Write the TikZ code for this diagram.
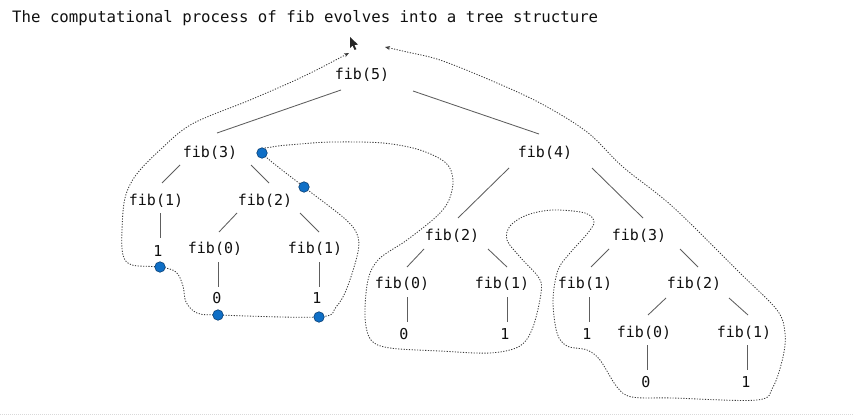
\documentclass[tikz,border=0pt]{standalone}
\usepackage{fontspec}
\setmonofont{DejaVu Sans Mono}
\usetikzlibrary{calc,arrows.meta}
\definecolor{txt}{HTML}{101010}
\definecolor{edgegray}{HTML}{5E5E5E}
\definecolor{trace}{HTML}{3A3A3A}
\definecolor{dotblue}{HTML}{0F6FC6}
\definecolor{dotline}{HTML}{0A3F73}
\newcommand\fibedge[6]{\draw[treeedge] ($(#1)+(#2,#3)$) -- ($(#4)+(#5,#6)$);}
\tikzset{
  fibnode/.style={inner sep=0pt,text=txt,font=\ttfamily\fontsize{15}{18}\selectfont,text height=11pt,text depth=3pt},
  treeedge/.style={draw=edgegray,line width=0.85pt},
  tracepath/.style={draw=trace,line width=0.85pt,dash pattern=on 1.2pt off 1.5pt},
  calldot/.style={circle,inner sep=0pt,minimum size=10.5pt,fill=dotblue,draw=dotline,line width=0.6pt},
}
\begin{document}
\begin{tikzpicture}[x=1pt,y=-1pt]
\useasboundingbox (0,0) rectangle (853,417);
% title
\node[anchor=base west,inner sep=0pt,text=txt,font=\ttfamily\fontsize{15.7}{19}\selectfont] (title) at (12,23) {The computational process of fib evolves into a tree structure};
% nodes
\node[fibnode] (a) at (362,76) {fib(5)};
\node[fibnode] (b) at (210,153) {fib(3)};
\node[fibnode] (c) at (545,153) {fib(4)};
\node[fibnode] (d) at (156,201) {fib(1)};
\node[fibnode] (e) at (265,201) {fib(2)};
\node[fibnode] (f) at (158,252) {1};
\node[fibnode] (g) at (215,249) {fib(0)};
\node[fibnode] (h) at (315,249) {fib(1)};
\node[fibnode] (i) at (217,299) {0};
\node[fibnode] (j) at (317,299) {1};
\node[fibnode] (k) at (452,236) {fib(2)};
\node[fibnode] (l) at (402,284) {fib(0)};
\node[fibnode] (m) at (502,284) {fib(1)};
\node[fibnode] (n) at (404,335) {0};
\node[fibnode] (o) at (505,335) {1};
\node[fibnode] (p) at (639,236) {fib(3)};
\node[fibnode] (q) at (585,284) {fib(1)};
\node[fibnode] (r) at (694,284) {fib(2)};
\node[fibnode] (s) at (587,335) {1};
\node[fibnode] (t) at (644,333) {fib(0)};
\node[fibnode] (u) at (744,333) {fib(1)};
\node[fibnode] (v) at (646,383) {0};
\node[fibnode] (w) at (746,383) {1};
% tree edges
\fibedge{a}{-21}{14}{b}{7}{-20}
\fibedge{a}{51}{15}{c}{-6}{-19}
\fibedge{b}{-30}{12}{d}{6}{-18}
\fibedge{b}{41}{12}{e}{4}{-18}
\fibedge{d}{4}{12}{f}{2}{-14}
\fibedge{e}{-28}{12}{g}{4}{-17}
\fibedge{e}{35}{12}{h}{4}{-17}
\fibedge{g}{3}{13}{i}{1}{-12}
\fibedge{h}{4}{13}{j}{2}{-12}
\fibedge{c}{-36}{15}{k}{6}{-18}
\fibedge{c}{47}{15}{p}{4}{-18}
\fibedge{k}{-28}{13}{l}{5}{-17}
\fibedge{k}{36}{13}{m}{5}{-17}
\fibedge{l}{5}{13}{n}{3}{-13}
\fibedge{m}{5}{13}{o}{2}{-13}
\fibedge{p}{-30}{13}{q}{6}{-17}
\fibedge{p}{41}{13}{r}{4}{-17}
\fibedge{q}{4}{13}{s}{2}{-13}
\fibedge{r}{-28}{14}{t}{4}{-18}
\fibedge{r}{35}{14}{u}{4}{-18}
\fibedge{t}{3}{12}{v}{1}{-13}
\fibedge{u}{3}{12}{w}{1}{-13}
% trace of the process
\draw[tracepath,{Stealth[length=5pt,width=4pt]}-{Stealth[length=5pt,width=4pt]}]
  plot[smooth,tension=0.55] coordinates {
  (349,53) (300,78) (250,100) (192,124) (160,150) (136,175) (125,198) (122,230) (123,255) (132,265) (160,267)
  (176,272) (183,286) (186,302) (197,313) (218,315) (319,317)
  (336,307) (347,288) (358,252) (357,234) (344,218) (304,187) (262,153)
  (272,147) (300,144) (333,142) (383,143) (420,150) (446,163) (453,180) (449,200) (437,216) (407,240) (379,259)
  (368,280) (365,317) (371,340) (390,348) (440,351) (490,353) (520,346) (533,327) (541,293) (539,278)
  (520,257) (507,240) (510,226) (527,215) (553,210) (585,213) (594,222) (587,234) (570,253) (558,270)
  (553,300) (557,333) (567,346) (587,350) (600,360) (617,387) (632,397) (673,398) (757,400)
  (773,387) (783,357) (785,333) (777,310) (740,273) (673,207) (623,167) (587,132) (540,103)
  (490,80) (440,60) (407,52) (385,47)};
% call dots
\node[calldot] (d1) at (160,267) {};
\node[calldot] (d2) at (218,315) {};
\node[calldot] (d3) at (319,317) {};
\node[calldot] (d4) at (304,187) {};
\node[calldot] (d5) at (262,153) {};
% mouse pointer
\fill[black!85] (350,37) -- (350,48) -- (352.6,45.6) -- (354.6,50) -- (356.4,49.2) -- (354.4,45) -- (358,44.6) -- cycle;
% bottom rule
\draw[black!15,line width=0.8pt,dash pattern=on 1pt off 1pt] (0,414) -- (853,414);
\end{tikzpicture}
\end{document}
